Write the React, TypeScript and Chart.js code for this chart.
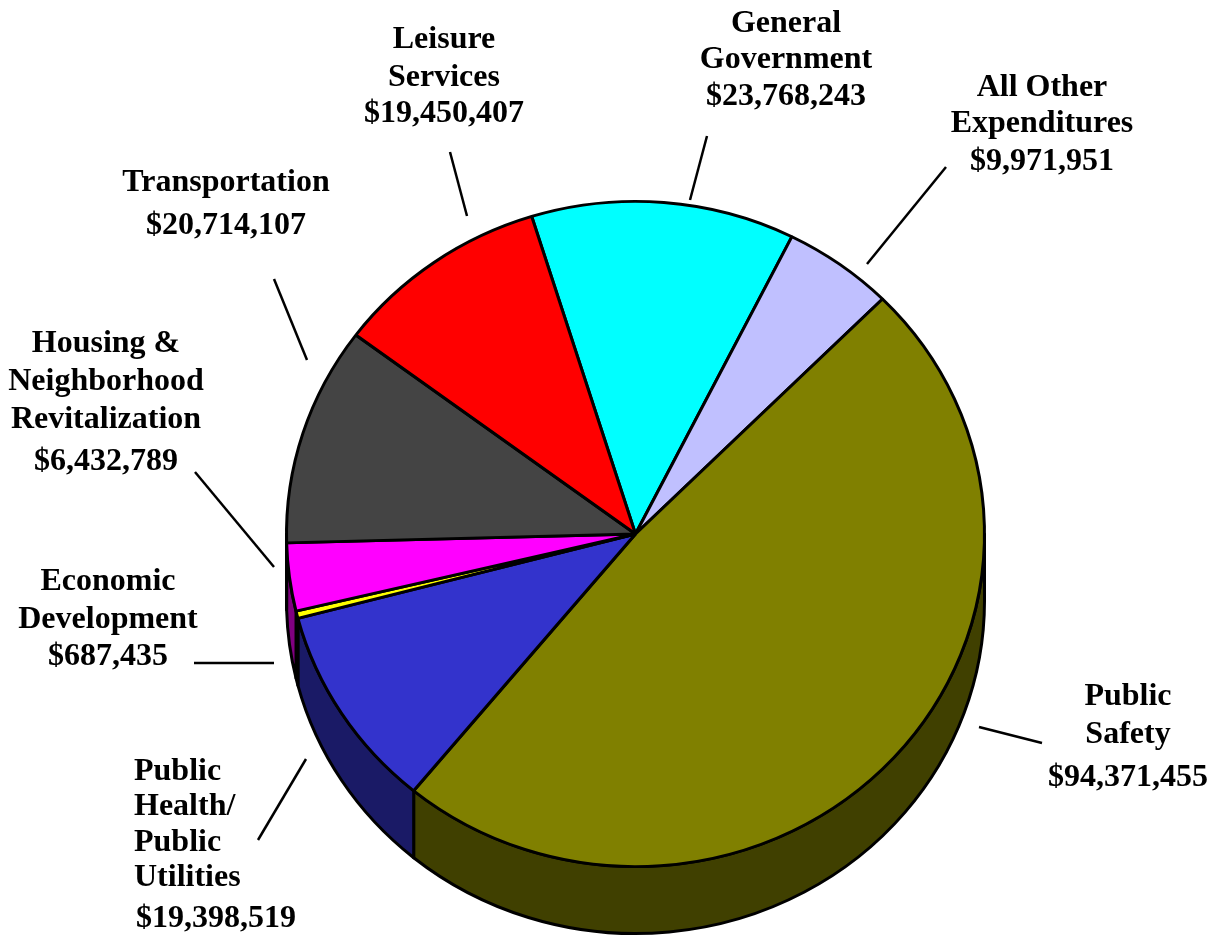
import React, { useEffect, useRef } from "react";
import { Chart, registerables } from "chart.js";

Chart.register(...registerables);

const categories = [
  "General Government",
  "All Other Expenditures",
  "Public Safety",
  "Public Health/ Public Utilities",
  "Economic Development",
  "Housing & Neighborhood Revitalization",
  "Transportation",
  "Leisure Services",
];
const amounts = [23768243, 9971951, 94371455, 19398519, 687435, 6432789, 20714107, 19450407];
const topColors = ["#00FFFF", "#C0C0FF", "#808000", "#3333CC", "#FFFF00", "#FF00FF", "#444444", "#FF0000"];
const sideColors = ["#008080", "#606080", "#404000", "#1A1A66", "#808000", "#800080", "#222222", "#800000"];

const FONT = 'bold 32px "Liberation Serif"';
const ELLIPSE_RATIO = 334 / 350.5;
const DEPTH = 67;

type Caption = { x: number; align: CanvasTextAlign; lines: [string, number][] };
const captions: Caption[] = [
  { x: 786, align: "center", lines: [["General", 32], ["Government", 68], ["$23,768,243", 105]] },
  { x: 1042, align: "center", lines: [["All Other", 96], ["Expenditures", 132], ["$9,971,951", 170]] },
  { x: 444, align: "center", lines: [["Leisure", 48], ["Services", 86], ["$19,450,407", 122]] },
  { x: 226, align: "center", lines: [["Transportation", 191], ["$20,714,107", 234]] },
  { x: 106, align: "center", lines: [["Housing &", 352], ["Neighborhood", 390], ["Revitalization", 428], ["$6,432,789", 470]] },
  { x: 108, align: "center", lines: [["Economic", 590], ["Development", 628], ["$687,435", 665]] },
  { x: 134, align: "left", lines: [["Public", 780], ["Health/", 815], ["Public", 851], ["Utilities", 886]] },
  { x: 136, align: "left", lines: [["$19,398,519", 927]] },
  { x: 1128, align: "center", lines: [["Public", 705], ["Safety", 743], ["$94,371,455", 786]] },
];
const leaders = [
  [707, 136, 690, 200],
  [946, 167, 867, 264],
  [450, 152, 467, 216],
  [274, 279, 307, 360],
  [195, 472, 274, 567],
  [194, 663, 274, 663],
  [306, 759, 258, 840],
  [979, 727, 1042, 743],
];

const piePlugin = {
  id: "pie3d",
  beforeDatasetsDraw(chart: any) {
    const ctx = chart.ctx;
    const arcs = chart.getDatasetMeta(0).data;
    const cx = arcs[0].x;
    const cy = arcs[0].y;
    ctx.save();
    ctx.lineWidth = 3;
    ctx.strokeStyle = "#000";
    ctx.lineJoin = "round";
    arcs.forEach((arc: any, i: number) => {
      const rx = arc.outerRadius;
      const ry = rx * ELLIPSE_RATIO;
      for (const shift of [0, Math.PI * 2]) {
        const a0 = Math.max(arc.startAngle - shift, 0);
        const a1 = Math.min(arc.endAngle - shift, Math.PI);
        if (a1 <= a0) continue;
        ctx.beginPath();
        ctx.ellipse(cx, cy, rx, ry, 0, a0, a1);
        ctx.ellipse(cx, cy + DEPTH, rx, ry, 0, a1, a0, true);
        ctx.closePath();
        ctx.fillStyle = sideColors[i];
        ctx.fill();
        ctx.stroke();
      }
    });
    ctx.restore();
    ctx.save();
    ctx.translate(cx, cy);
    ctx.scale(1, ELLIPSE_RATIO);
    ctx.translate(-cx, -cy);
  },
  afterDatasetsDraw(chart: any) {
    const ctx = chart.ctx;
    ctx.restore();
    ctx.save();
    ctx.strokeStyle = "#000";
    ctx.lineWidth = 2.5;
    for (const [x1, y1, x2, y2] of leaders) {
      ctx.beginPath();
      ctx.moveTo(x1, y1);
      ctx.lineTo(x2, y2);
      ctx.stroke();
    }
    ctx.fillStyle = "#000";
    ctx.font = FONT;
    ctx.textBaseline = "alphabetic";
    for (const c of captions) {
      ctx.textAlign = c.align;
      for (const [text, y] of c.lines) ctx.fillText(text, c.x, y);
    }
    ctx.restore();
  },
};

export default function App() {
  const ref = useRef<HTMLCanvasElement>(null);
  useEffect(() => {
    const chart = new Chart(ref.current!, {
      type: "pie",
      data: {
        labels: categories,
        datasets: [
          {
            data: amounts,
            backgroundColor: topColors,
            borderColor: "#000",
            borderWidth: 3,
            borderAlign: "center",
          } as any,
        ],
      },
      options: {
        animation: false,
        responsive: false,
        rotation: -17.3,
        layout: { padding: { left: 285, right: 232, top: 183.5, bottom: 51.5 } },
        plugins: { legend: { display: false }, tooltip: { enabled: false } },
      },
      plugins: [piePlugin],
    } as any);
    return () => chart.destroy();
  }, []);
  return (
    <div style={{ position: "absolute", left: 0, top: 0, width: 1218, height: 936, background: "#fff" }}>
      <canvas ref={ref} width={1218} height={936} style={{ display: "block" }} />
    </div>
  );
}
